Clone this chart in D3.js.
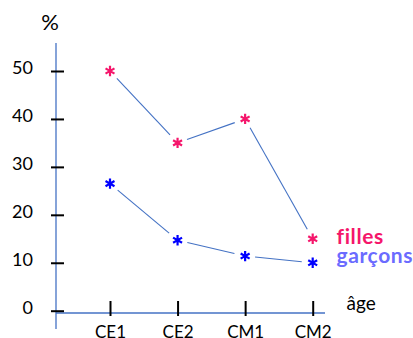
<!DOCTYPE html>
<html><head><meta charset="utf-8">
<script src="https://cdn.jsdelivr.net/npm/d3@7"></script>
<style>body{margin:0;background:#fff}svg{display:block}text{font-family:Lato,"Open Sans",sans-serif}</style>
</head><body>
<svg id="c" width="413" height="338"></svg>
<script>
const categories = ["CE1","CE2","CM1","CM2"];
const filles = [50, 35, 40, 15];
const garcons = [26.5, 14.7, 11.4, 10];
const yTicks = [0,10,20,30,40,50];
const seriesNames = ["filles","garçons"];

const svg = d3.select("#c");
const x = d3.scalePoint().domain(categories).range([110, 312.7]);
const y = d3.scaleLinear().domain([0,50]).range([310.7, 71]);
const lineColor = "#4472c4";
const pink = "#f5166b", blue = "#0000ff", legBlue = "#6b6bff";

// axes lines
svg.append("line").attr("x1",56).attr("x2",56).attr("y1",43).attr("y2",329).attr("stroke",lineColor).attr("stroke-width",1.3);
svg.append("line").attr("x1",56).attr("x2",325).attr("y1",313).attr("y2",313).attr("stroke",lineColor).attr("stroke-width",1.3);

// y axis
const ya = svg.append("g").attr("transform","translate(56,0)")
  .call(d3.axisLeft(y).tickValues(yTicks).tickSize(5).tickPadding(0));
ya.select(".domain").remove();
ya.selectAll(".tick line").attr("x1",-5).attr("x2",8).attr("stroke","#000").attr("stroke-width",2);
ya.selectAll(".tick text").attr("x",-23).attr("dy",2.3).attr("dominant-baseline","auto").attr("font-size",18).attr("fill","#000").attr("font-family","Lato,sans-serif");

// x axis
const xa = svg.append("g").attr("transform","translate(0,313)")
  .call(d3.axisBottom(x).tickSize(0).tickPadding(0));
xa.select(".domain").remove();
xa.selectAll(".tick line").attr("y1",-12).attr("y2",3).attr("stroke","#000").attr("stroke-width",2);
xa.selectAll(".tick text").attr("y",24.5).attr("dy",0).attr("font-size",17).attr("fill","#000").attr("font-family","Lato,sans-serif");

svg.append("text").attr("x",50).attr("y",30).attr("text-anchor","middle").attr("font-size",22).text("%");
svg.append("text").attr("x",346.5).attr("y",309.5).attr("font-size",19).text("âge");

function drawSeries(vals, color){
  const pts = vals.map((v,i)=>[x(categories[i]), y(v)]);
  const g = svg.append("g");
  for(let i=0;i<pts.length-1;i++){
    const [x1,y1]=pts[i],[x2,y2]=pts[i+1];
    const dx=x2-x1, dy=y2-y1, L=Math.hypot(dx,dy);
    const g1=10/L, g2=11/L;
    g.append("line").attr("x1",x1+dx*g1).attr("y1",y1+dy*g1).attr("x2",x2-dx*g2).attr("y2",y2-dy*g2)
      .attr("stroke",lineColor).attr("stroke-width",1.1);
  }
  g.selectAll("path.m").data(pts).join("path").attr("class","m")
    .attr("transform",d=>`translate(${d[0]},${d[1]})`)
    .attr("d", d3.symbol(d3.symbolAsterisk, 75)())
    .attr("stroke",color).attr("stroke-width",2.2).attr("fill","none");
}
drawSeries(filles, pink);
drawSeries(garcons, blue);

svg.append("text").attr("x",336.5).attr("y",244.3).attr("font-size",21).attr("letter-spacing",0.6).attr("font-weight","bold").attr("fill",pink).text(seriesNames[0]);
svg.append("text").attr("x",336.5).attr("y",263.3).attr("font-size",21).attr("letter-spacing",0.6).attr("font-weight","bold").attr("fill",legBlue).text(seriesNames[1]);
</script>
</body></html>
